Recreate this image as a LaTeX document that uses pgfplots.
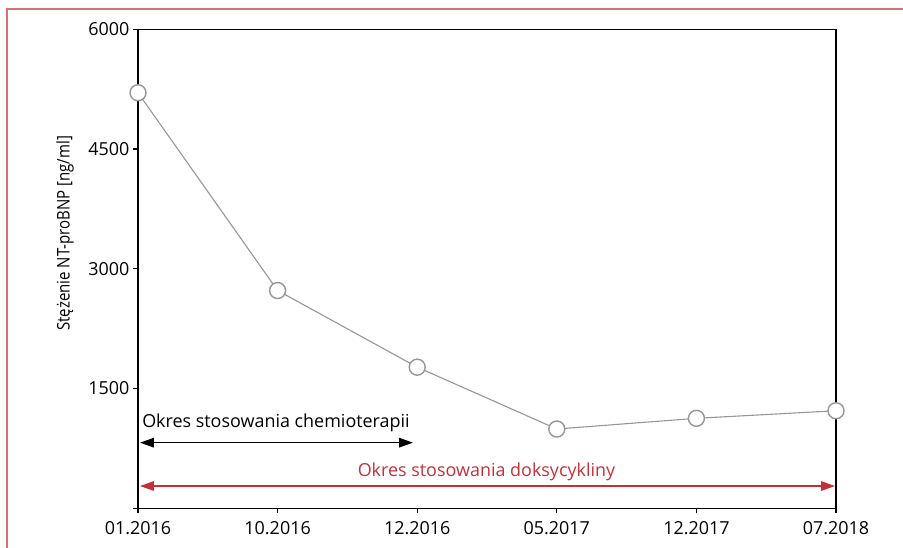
\documentclass[border=0pt]{standalone}
\usepackage{fontspec}
\setmainfont{Open Sans}
\newfontfamily\ylabfont[FakeStretch=0.86]{Open Sans}
\usepackage{pgfplots}
\pgfplotsset{compat=1.18}
\usetikzlibrary{arrows.meta}
\definecolor{redc}{RGB}{196,48,58}
\definecolor{borderred}{RGB}{212,115,115}
\definecolor{lgray}{RGB}{150,150,150}
\begin{document}
\begin{tikzpicture}[x=1bp,y=1bp]
\path[use as bounding box] (0,0) rectangle (903,548);
\draw[borderred, line width=2.5bp] (7,0) -- (7,539) -- (903,539);
\begin{axis}[
  at={(138bp,39.7bp)}, anchor=south west,
  scale only axis, width=698bp, height=479bp,
  xmin=0, xmax=5, ymin=0, ymax=6000,
  xtick={0,1,2,3,4,5},
  xticklabels={01.2016,10.2016,12.2016,05.2017,12.2017,07.2018},
  ytick={0,1500,3000,4500,6000},
  yticklabels={,1500,3000,4500,6000},
  tick pos=left, tick align=outside, major tick length=5bp,
  axis line style={line width=1.3bp},
  tick style={line width=1.1bp, black},
  ticklabel style={font=\fontsize{18}{20}\selectfont},
  xticklabel style={yshift=-5bp},
  /pgf/number format/assume math mode=true,
  ylabel={Stężenie NT-proBNP [ng/ml]},
  ylabel style={at={(rel axis cs:-0.1046,0.574)}, anchor=center, font=\ylabfont\fontsize{17.5}{19}\selectfont},
  clip=false,
]
\addplot[color=lgray, line width=1.1bp, mark=*, mark size=8bp,
  mark options={fill=white, draw=lgray, line width=1.4bp}]
  coordinates {(0,5205) (1,2728) (2,1768) (3,993) (4,1127) (5,1222)};
\draw[black, line width=1.4bp, {Triangle[length=14bp,width=9.5bp]}-{Triangle[length=14bp,width=9.5bp]}]
  (axis cs:0.014,822) -- (axis cs:1.97,822);
\draw[redc, line width=1.4bp, {Triangle[length=14bp,width=9.5bp]}-{Triangle[length=14bp,width=9.5bp]}]
  (axis cs:0.014,279) -- (axis cs:4.993,279);
\node[anchor=base west, inner sep=0pt, font=\fontsize{18}{20}\selectfont] at (axis cs:0.029,1006) {Okres stosowania chemioterapii};
\node[anchor=base, inner sep=0pt, text=redc, font=\fontsize{18}{20}\selectfont] at (axis cs:2.496,401) {Okres stosowania doksycykliny};
\end{axis}
\end{tikzpicture}
\end{document}
